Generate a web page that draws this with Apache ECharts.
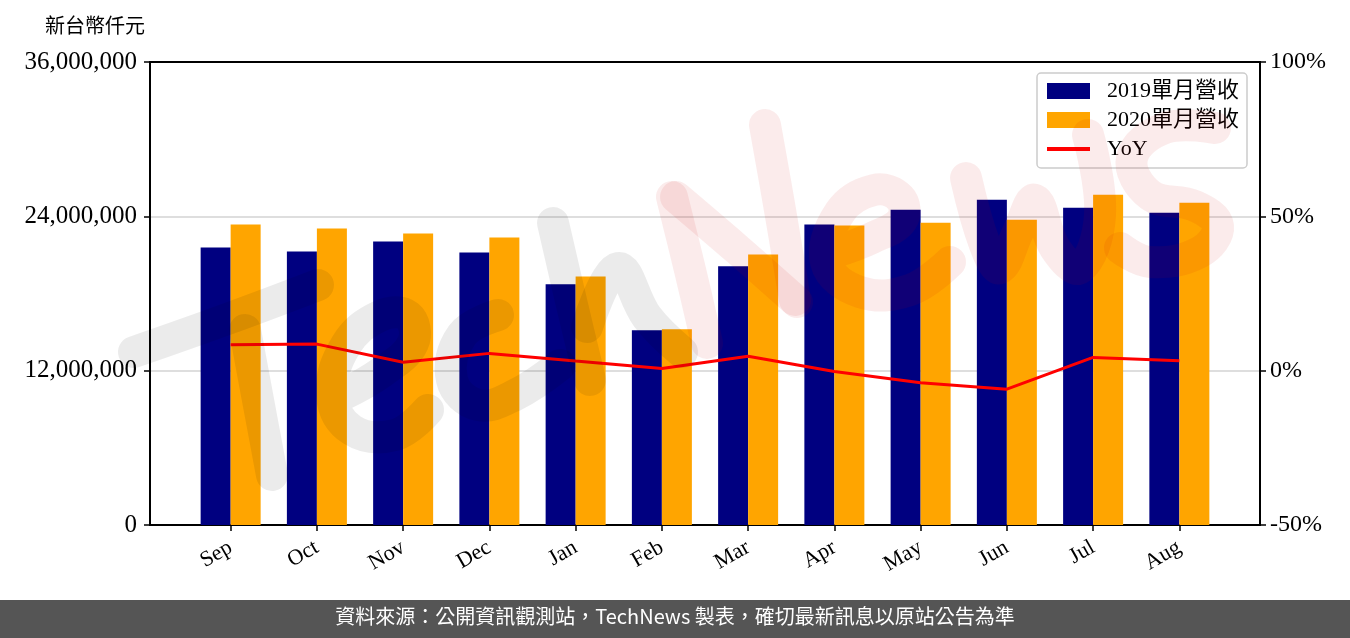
<!DOCTYPE html>
<html><head><meta charset="utf-8">
<script src="https://cdn.jsdelivr.net/npm/echarts@6/dist/echarts.min.js"></script>
<style>html,body{margin:0;padding:0;background:#fff}#c{width:1350px;height:638px}</style>
</head><body><div id="c"></div>
<script>
const months = ['Sep','Oct','Nov','Dec','Jan','Feb','Mar','Apr','May','Jun','Jul','Aug'];
const rev2019 = [21580000, 21270000, 22040000, 21190000, 18710000, 15150000, 20110000, 23360000, 24520000, 25290000, 24670000, 24280000];
const rev2020 = [23360000, 23050000, 22660000, 22350000, 19330000, 15230000, 21030000, 23280000, 23510000, 23740000, 25670000, 25060000];
const yoy = [8.4, 8.6, 2.7, 5.6, 3.1, 0.7, 4.7, -0.3, -3.9, -6.0, 4.3, 3.2];
const seriesNames = ['2019單月營收', '2020單月營收', 'YoY'];
const unitLabel = '新台幣仟元';
const footerText = '資料來源：公開資訊觀測站，TechNews 製表，確切最新訊息以原站公告為準';

// decorative "TechNews" brush watermark (not data)
const wmGray = [
  [[134,352],[230,318],[318,285]],
  [[245,330],[258,400],[272,475]],
  [[342,395],[382,372],[413,343],[408,316],[380,316],[346,345],[332,395],[352,430],[395,435],[428,410]],
  [[498,315],[462,335],[452,380],[478,405],[515,395],[560,365]],
  [[553,223],[572,305],[590,380]],
  [[587,327],[618,268],[647,317],[682,352]]
];
const wmPink = [
  [[707,343],[690,270],[672,197]],
  [[676,197],[738,250],[797,302]],
  [[795,300],[780,210],[765,125]],
  [[835,252],[872,238],[902,220],[900,198],[874,190],[840,212],[826,262],[860,292],[910,290],[950,262]],
  [[966,178],[985,245],[1000,268],[1018,232],[1035,200],[1055,248],[1080,268],[1100,215],[1088,135]],
  [[1215,128],[1165,128],[1132,158],[1150,195],[1195,206],[1218,226],[1200,252],[1150,262],[1120,248]]
];

const serif = '"Liberation Serif", "Noto Sans CJK TC", serif';
const idx = months.map((m, i) => i);
const wmStrokes = wmGray.map(p => ({type: 'polyline', z: 100, silent: true, shape: {points: p, smooth: 0.4},
    style: {stroke: 'rgba(0,0,0,0.08)', lineWidth: 32, lineCap: 'round', lineJoin: 'round', fill: null}}))
  .concat(wmPink.map(p => ({type: 'polyline', z: 100, silent: true, shape: {points: p, smooth: 0.4},
    style: {stroke: 'rgba(200,0,0,0.08)', lineWidth: 32, lineCap: 'round', lineJoin: 'round', fill: null}})));

const chart = echarts.init(document.getElementById('c'), null, {renderer: 'canvas'});
chart.setOption({
  animation: false,
  backgroundColor: '#fff',
  textStyle: {fontFamily: serif},
  grid: {left: 150, right: 90, top: 62, bottom: 113, show: true, borderColor: '#000', borderWidth: 2, backgroundColor: 'transparent'},
  legend: {
    show: true, orient: 'vertical', left: 1037, top: 73,
    padding: [7, 8, 8, 8], itemGap: 7, itemWidth: 43, itemHeight: 16,
    backgroundColor: 'rgba(255,255,255,0.85)', borderColor: '#cccccc', borderWidth: 1.5, borderRadius: 4,
    textStyle: {fontFamily: serif, fontSize: 22, color: '#000', padding: [0, 0, 0, 12]},
    data: [
      {name: seriesNames[0], icon: 'rect'},
      {name: seriesNames[1], icon: 'rect'},
      {name: seriesNames[2], itemStyle: {color: 'rgba(0,0,0,0)', borderWidth: 0, opacity: 0}, lineStyle: {color: '#ff0000', width: 4}}
    ]
  },
  xAxis: {
    type: 'value', min: -0.935, max: 11.935,
    axisLine: {show: true, onZero: false, lineStyle: {color: '#000', width: 2}},
    splitLine: {show: false},
    axisTick: {show: true, length: 6, lineStyle: {color: '#000', width: 1.5}, customValues: idx},
    axisLabel: {customValues: idx, formatter: v => months[Math.round(v)], rotate: 30, margin: 21,
      fontFamily: serif, fontSize: 22, color: '#000'}
  },
  yAxis: [{
    type: 'value', min: 0, max: 36000000, interval: 12000000,
    axisLine: {show: true, onZero: false, lineStyle: {color: '#000', width: 2}},
    axisTick: {show: true, length: 6, lineStyle: {color: '#000', width: 1.5}},
    splitLine: {show: true, lineStyle: {color: ['rgba(0,0,0,0)', '#d3d3d3', '#d3d3d3', 'rgba(0,0,0,0)'], width: 1.5}},
    axisLabel: {fontFamily: serif, fontSize: 25, color: '#000', margin: 13,
      formatter: v => v.toLocaleString('en-US')}
  }, {
    type: 'value', min: -50, max: 100, interval: 50, position: 'right',
    axisLine: {show: true, onZero: false, lineStyle: {color: '#000', width: 2}},
    axisTick: {show: true, length: 6, lineStyle: {color: '#000', width: 1.5}},
    splitLine: {show: false},
    axisLabel: {fontFamily: serif, fontSize: 24, color: '#000', margin: 10, formatter: v => v + '%'}
  }],
  series: [
    {name: seriesNames[0], type: 'bar', barWidth: 30, barGap: '0%', itemStyle: {color: '#000080'},
      data: rev2019.map((v, i) => [i, v])},
    {name: seriesNames[1], type: 'bar', barWidth: 30, barGap: '0%', itemStyle: {color: '#ffa500'},
      data: rev2020.map((v, i) => [i, v])},
    {name: seriesNames[2], type: 'line', yAxisIndex: 1, symbol: 'none', z: 5,
      lineStyle: {color: '#ff0000', width: 3}, itemStyle: {color: '#ff0000'},
      data: yoy.map((v, i) => [i, v])}
  ],
  graphic: [
    {type: 'text', left: 45, top: 15, style: {text: unitLabel, fontFamily: '"Noto Sans CJK TC", sans-serif', fontSize: 20, fill: '#000'}},
    ...wmStrokes,
    {type: 'rect', left: 0, top: 600, z: 50, shape: {width: 1350, height: 38}, style: {fill: '#555555'}},
    {type: 'text', left: 'center', top: 606, z: 51, style: {text: footerText, fontFamily: '"Noto Sans CJK TC", sans-serif', fontSize: 20, fill: '#fff'}}
  ]
});
</script>
</body></html>
